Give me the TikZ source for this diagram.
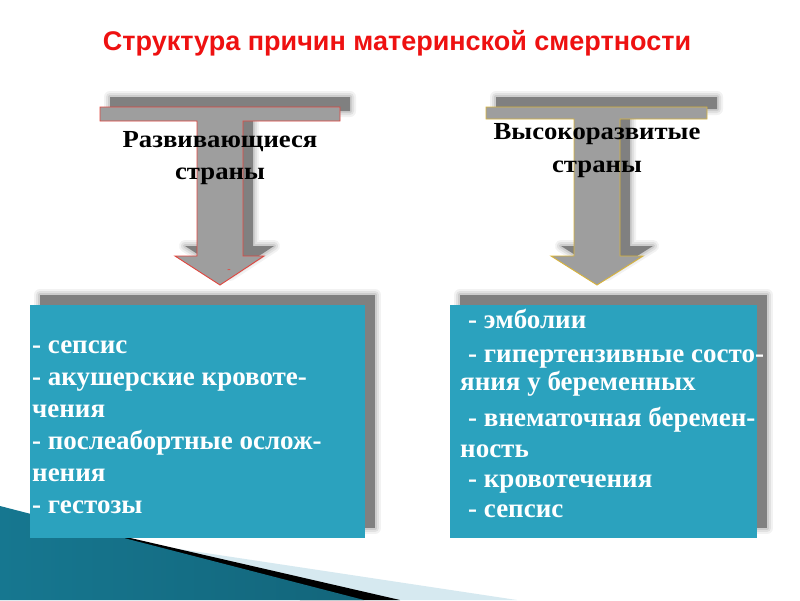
\documentclass[tikz,border=0pt]{standalone}
\usepackage{fontspec}
\usepackage{graphicx}
\setmainfont{Liberation Serif}
\newfontfamily\titlefont{Liberation Sans}
\definecolor{arrowgrey}{HTML}{9E9E9E}
\definecolor{shadowgrey}{HTML}{808080}
\definecolor{boxteal}{HTML}{2BA2BE}
\definecolor{redline}{HTML}{E0453E}
\definecolor{goldline}{HTML}{D9B43A}
\definecolor{titlered}{HTML}{EE1111}
\definecolor{decodark}{HTML}{167790}
\definecolor{decolight}{HTML}{5BBCD9}
\definecolor{decoband}{HTML}{D6E9F0}
\newcommand{\widen}[1]{\scalebox{1.09}[1]{#1}}
\begin{document}
\begin{tikzpicture}[x=1pt,y=-1pt,
  leftarrow/.style={insert path={(100,107) -- (340,107) -- (340,121) -- (243,121) -- (243,256) -- (264,256) -- (220,285) -- (175,256) -- (197,256) -- (197,121) -- (100,121) -- cycle}},
  rightarrow/.style={insert path={(486,107) -- (707,107) -- (707,119) -- (620,119) -- (620,256) -- (643,256) -- (597,285) -- (551,256) -- (574,256) -- (574,119) -- (486,119) -- cycle}},
  softshadow/.style={shift={(10,-10)}},
  arrowtext/.style={font=\fontsize{24.5}{32}\selectfont\bfseries, text=black, inner sep=0pt, anchor=base},
  boxtext/.style={font=\fontsize{27}{32}\selectfont\bfseries, text=white, inner sep=0pt, anchor=base west},
  tealbox/.style={fill=boxteal, draw=none, inner sep=0pt, anchor=north west},
]
\useasboundingbox (0,0) rectangle (800,600);
\fill[white] (0,0) rectangle (800,600);

% bottom-left decoration
\fill[decoband] (0,522) -- (517,600) -- (0,600) -- cycle;
\fill[black] (100,531) -- (400,600) -- (300,600) -- cycle;
\shade[left color=decodark, middle color=decolight, right color=decodark!85!black] (0,506) -- (364,600) -- (0,600) -- cycle;

% title
\node[font=\titlefont\bfseries\fontsize{27}{27}\selectfont, text=titlered, inner sep=0pt, anchor=base] (title) at (397,50) {Структура причин материнской смертности};

% arrow shadows
\foreach \w/\o in {12/0.10, 8/0.14, 4/0.2}{
  \draw[softshadow, line width=\w, draw=shadowgrey, opacity=\o, line join=round, leftarrow];
  \draw[softshadow, line width=\w, draw=shadowgrey, opacity=\o, line join=round, rightarrow];
}
\fill[softshadow, shadowgrey, leftarrow];
\fill[softshadow, shadowgrey, rightarrow];

% arrows
\filldraw[fill=arrowgrey, draw=redline, line width=0.9, leftarrow];
\filldraw[fill=arrowgrey, draw=goldline, line width=0.9, rightarrow];
\node[text=redline, font=\fontsize{10}{10}\selectfont\bfseries, inner sep=0pt] (dash) at (229,271) {-};

\node[arrowtext] (dev1) at (220,147) {\widen{Развивающиеся}};
\node[arrowtext] (dev2) at (220,179) {\widen{страны}};
\node[arrowtext] (hi1) at (597,139) {\widen{Высокоразвитые}};
\node[arrowtext] (hi2) at (597,172) {\widen{страны}};

% box shadows
\foreach \w/\o in {12/0.10, 8/0.14, 4/0.2}{
  \draw[line width=\w, draw=shadowgrey, opacity=\o, line join=round] (40,295) rectangle (375,528);
  \draw[line width=\w, draw=shadowgrey, opacity=\o, line join=round] (460,295) rectangle (767,528);
}
\fill[shadowgrey] (40,295) rectangle (375,528);
\fill[shadowgrey] (460,295) rectangle (767,528);

% boxes
\node[tealbox, minimum width=335, minimum height=233] (lbox) at (30,305) {};
\node[tealbox, minimum width=307, minimum height=233] (rbox) at (450,305) {};

% left box text
\node[boxtext] (l1) at (32,353) {- сепсис};
\node[boxtext] (l2) at (32,385) {- акушерские кровоте-};
\node[boxtext] (l3) at (32,417) {чения};
\node[boxtext] (l4) at (32,449) {- послеабортные ослож-};
\node[boxtext] (l5) at (32,481) {нения};
\node[boxtext] (l6) at (32,513) {- гестозы};

% right box text
\node[boxtext] (r1) at (468,328) {- эмболии};
\node[boxtext] (r2) at (468,362) {- гипертензивные состо-};
\node[boxtext] (r3) at (460,390) {яния у беременных};
\node[boxtext] (r4) at (468,426) {- внематочная беремен-};
\node[boxtext] (r5) at (460,457) {ность};
\node[boxtext] (r6) at (468,487) {- кровотечения};
\node[boxtext] (r7) at (468,517) {- сепсис};
\end{tikzpicture}
\end{document}
